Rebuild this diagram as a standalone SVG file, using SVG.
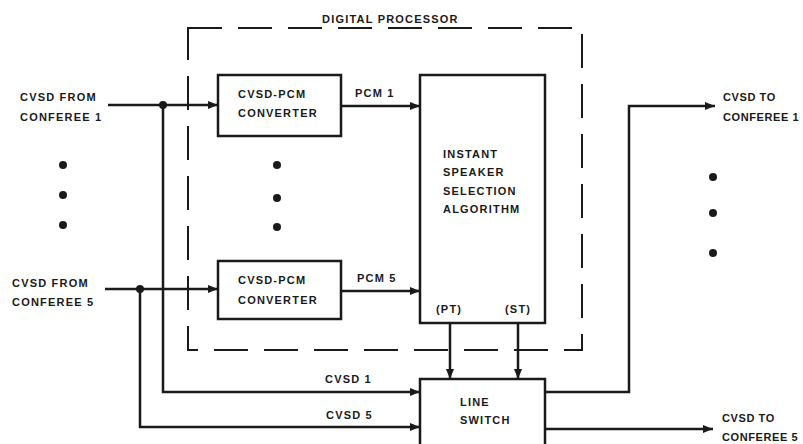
<svg xmlns="http://www.w3.org/2000/svg" width="803" height="444" viewBox="0 0 803 444">
<style>
text{font-family:"Liberation Sans",Arial,sans-serif;font-weight:bold;font-size:11px;letter-spacing:1.2px;fill:#1a1a1a}
.tight{letter-spacing:0.6px}
.box{fill:none;stroke:#1a1a1a;stroke-width:2.5}
.ln{fill:none;stroke:#1a1a1a;stroke-width:2.5}
.dash{fill:none;stroke:#1a1a1a;stroke-width:2;stroke-dasharray:34 16}
.dot{fill:#1a1a1a}
</style>
<defs>
<marker id="ah" viewBox="0 0 10 8" refX="10" refY="4" markerWidth="11" markerHeight="8" markerUnits="userSpaceOnUse" orient="auto">
<path d="M0,0 L10,4 L0,8 z" fill="#1a1a1a"/>
</marker>
</defs>
<g id="digital-processor">
<rect class="dash" x="188" y="28" width="394" height="322"/>
<text x="322" y="23">DIGITAL PROCESSOR</text>
</g>
<g id="conv1">
<rect class="box" x="218" y="75" width="123" height="61"/>
<text x="238" y="98">CVSD-PCM</text>
<text x="238" y="117">CONVERTER</text>
</g>
<g id="conv5">
<rect class="box" x="218" y="261" width="123" height="58"/>
<text x="238" y="284">CVSD-PCM</text>
<text x="238" y="304">CONVERTER</text>
</g>
<g id="algorithm">
<rect class="box" x="420" y="75" width="125" height="248"/>
<text x="443" y="158">INSTANT</text>
<text x="443" y="176">SPEAKER</text>
<text x="443" y="195">SELECTION</text>
<text x="443" y="213">ALGORITHM</text>
<text x="436" y="313">(PT)</text>
<text x="505" y="313">(ST)</text>
</g>
<g id="line-switch">
<rect class="box" x="420" y="379" width="125" height="70"/>
<text x="460" y="406">LINE</text>
<text x="460" y="424">SWITCH</text>
</g>
<g id="in1">
<text x="20" y="101">CVSD FROM</text>
<text x="20" y="121">CONFEREE 1</text>
</g>
<g id="in5">
<text x="12" y="287">CVSD FROM</text>
<text x="12" y="306">CONFEREE 5</text>
</g>
<g id="out1">
<text class="tight" x="723" y="101">CVSD TO</text>
<text class="tight" x="723" y="121">CONFEREE 1</text>
</g>
<g id="out5">
<text class="tight" x="722" y="422">CVSD TO</text>
<text class="tight" x="722" y="441">CONFEREE 5</text>
</g>
<g id="ellipses">
<circle class="dot" cx="63" cy="165" r="4"/>
<circle class="dot" cx="63" cy="195" r="4"/>
<circle class="dot" cx="63" cy="225" r="4"/>
<circle class="dot" cx="277" cy="165" r="4"/>
<circle class="dot" cx="277" cy="198" r="4"/>
<circle class="dot" cx="277" cy="227" r="4"/>
<circle class="dot" cx="713" cy="177" r="4"/>
<circle class="dot" cx="713" cy="213" r="4"/>
<circle class="dot" cx="713" cy="253" r="4"/>
</g>
<g id="connectors">
<path class="ln" d="M108,105 H218" marker-end="url(#ah)"/>
<path class="ln" d="M163,105 V392 H420" marker-end="url(#ah)"/>
<circle class="dot" cx="163" cy="105" r="4"/>
<path class="ln" d="M105,289 H218" marker-end="url(#ah)"/>
<path class="ln" d="M140,289 V427 H420" marker-end="url(#ah)"/>
<circle class="dot" cx="140" cy="289" r="4"/>
<path class="ln" d="M341,106 H420" marker-end="url(#ah)"/>
<path class="ln" d="M341,291 H420" marker-end="url(#ah)"/>
<path class="ln" d="M450,323 V379" marker-end="url(#ah)"/>
<path class="ln" d="M518,323 V379" marker-end="url(#ah)"/>
<path class="ln" d="M545,392 H629 V106 H715" marker-end="url(#ah)"/>
<path class="ln" d="M545,429 H713" marker-end="url(#ah)"/>
<text x="355" y="97">PCM 1</text>
<text x="357" y="282">PCM 5</text>
<text x="325" y="383">CVSD 1</text>
<text x="326" y="419">CVSD 5</text>
</g>
</svg>
